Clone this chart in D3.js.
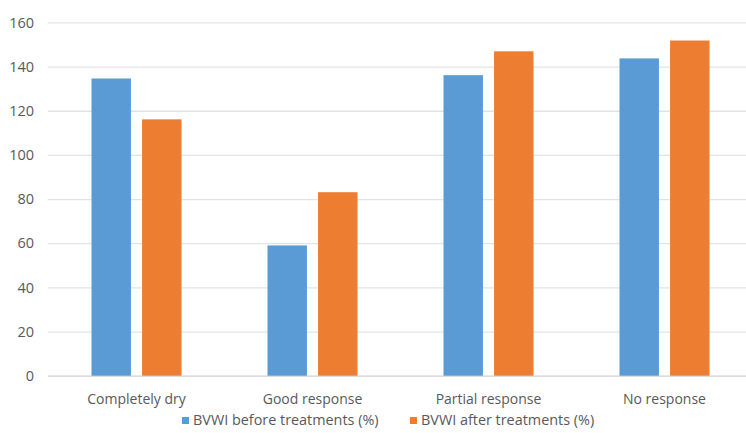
<!DOCTYPE html>
<html><head><meta charset="utf-8">
<script src="https://cdn.jsdelivr.net/npm/d3@7"></script>
<style>html,body{margin:0;padding:0;background:#fff;}svg{display:block;}</style>
</head><body>
<script>
const categories = ["Completely dry", "Good response", "Partial response", "No response"];
const seriesNames = ["BVWI before treatments (%)", "BVWI after treatments (%)"];
const before = [134.6, 59, 136.1, 143.7];
const after = [116.1, 83.1, 146.9, 151.8];
const yTicks = [0, 20, 40, 60, 80, 100, 120, 140, 160];
const colors = ["#5b9bd5", "#ed7d31"];

const W = 746, H = 433;
const svg = d3.select("body").append("svg").attr("width", W).attr("height", H);
const font = "'Open Sans', sans-serif";
const textColor = "#595959";

const y = d3.scaleLinear().domain([0, 160]).range([375.7, 22.4]);
const x0 = d3.scaleBand().domain(categories).range([48.5, 752.5]).padding(0);
const x1 = d3.scaleBand().domain(seriesNames).range([-45, 45]).paddingInner(0.22);

// gridlines
const yAxis = d3.axisLeft(y).tickValues(yTicks).tickSize(-(W - 48)).tickPadding(14);
const gy = svg.append("g").attr("transform", "translate(48,0)").call(yAxis);
gy.select(".domain").remove();
gy.selectAll(".tick line").attr("stroke", d => d === 0 ? "#d0d0d0" : "#e3e3e3").attr("stroke-width", 1.3);
gy.selectAll(".tick text").attr("fill", textColor).style("font-family", font).style("font-size", "14.5px");

// bars
const data = categories.map((c, i) => ({c, vals: [before[i], after[i]]}));
const groups = svg.append("g").selectAll("g").data(data).join("g")
  .attr("transform", d => `translate(${x0(d.c) + x0.bandwidth() / 2},0)`);
groups.selectAll("rect").data(d => d.vals.map((v, j) => ({v, s: seriesNames[j], j})))
  .join("rect")
  .attr("x", d => x1(d.s))
  .attr("width", x1.bandwidth())
  .attr("y", d => y(d.v))
  .attr("height", d => y(0) - y(d.v))
  .attr("fill", d => colors[d.j]);

// x axis labels
const xAxis = d3.axisBottom(x0).tickSize(0).tickPadding(18);
const gx = svg.append("g").attr("transform", `translate(0,${y(0)})`).call(xAxis);
gx.select(".domain").remove();
gx.selectAll(".tick text").attr("fill", textColor).style("font-family", font).style("font-size", "14px");

// legend
const legendX = [182, 410];
const lg = svg.append("g").selectAll("g").data(seriesNames).join("g")
  .attr("transform", (d, i) => `translate(${legendX[i]},${425})`);
lg.append("rect").attr("x", 0).attr("y", -8).attr("width", 7).attr("height", 7).attr("fill", (d, i) => colors[i]);
lg.append("text").attr("x", 11).attr("y", 0).text(d => d)
  .attr("fill", textColor).style("font-family", font).style("font-size", "14.4px");
</script>
</body></html>
